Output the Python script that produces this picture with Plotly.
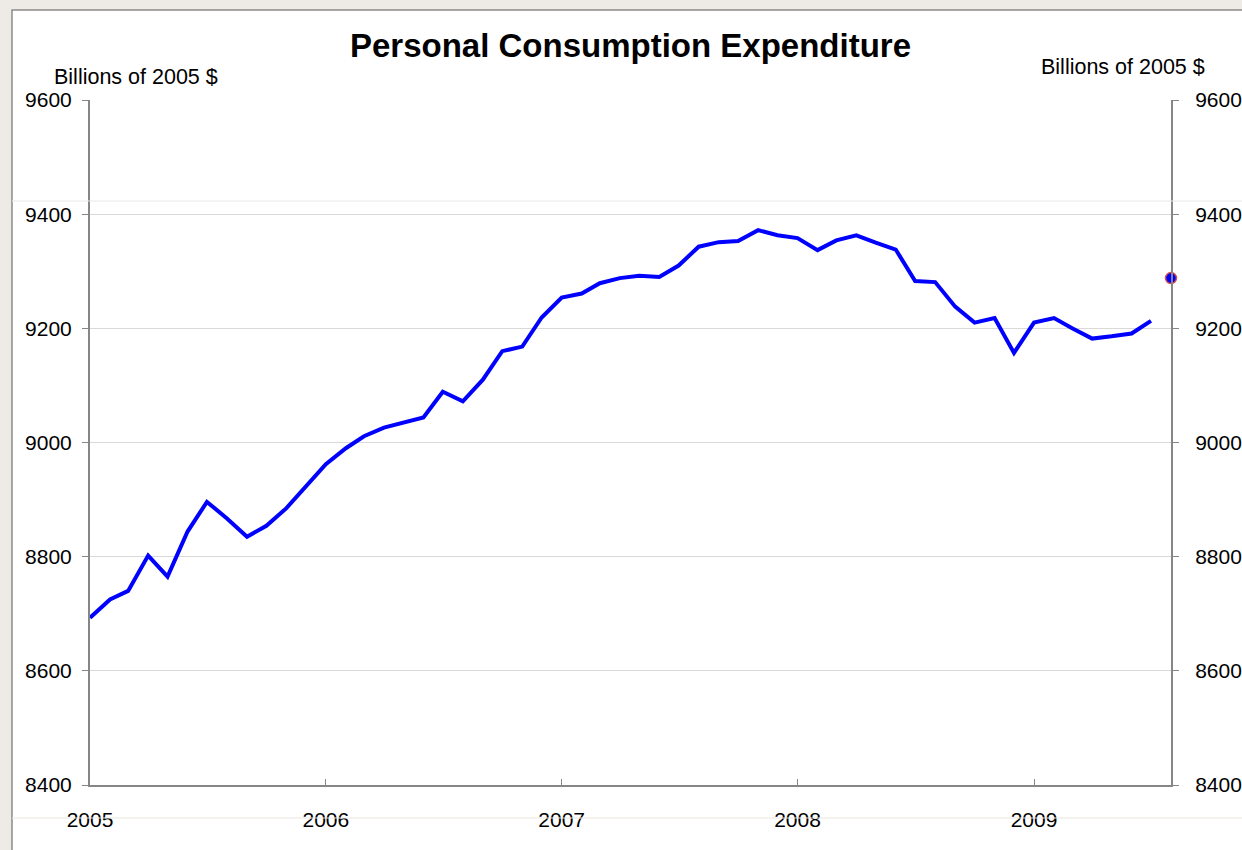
import plotly.graph_objects as go

# monthly values, Jan 2005 .. Jul 2009 (billions of 2005 $)
years = [2005, 2006, 2007, 2008, 2009]
pce_2005 = [8693, 8725, 8740, 8802, 8765, 8844, 8896, 8867, 8835, 8854, 8885, 8924]
pce_2006 = [8962, 8990, 9011, 9026, 9035, 9044, 9089, 9072, 9110, 9160, 9168, 9219]
pce_2007 = [9254, 9261, 9279, 9288, 9292, 9290, 9310, 9343, 9351, 9353, 9372, 9363]
pce_2008 = [9358, 9337, 9354, 9363, 9350, 9338, 9283, 9281, 9238, 9210, 9218, 9157]
pce_2009 = [9210, 9218, 9200, 9182, 9186, 9191, 9213]

latest_month = "2009-08-01"
latest_value = 9288

y_ticks = [8400, 8600, 8800, 9000, 9200, 9400, 9600]

values = pce_2005 + pce_2006 + pce_2007 + pce_2008 + pce_2009
months = [f"{y}-{m:02d}-01" for y in years for m in range(1, 13)][:len(values)]

FONT = "Liberation Sans, Arial, sans-serif"
AXIS = "#868686"
GRID = "#d9d9d9"

fig = go.Figure()
fig.add_trace(go.Scatter(
    x=months, y=values, mode="lines",
    line=dict(color="#0000ff", width=4),
    showlegend=False, hoverinfo="x+y",
))
fig.add_trace(go.Scatter(
    x=[latest_month], y=[latest_value], mode="markers", yaxis="y2",
    marker=dict(color="#0000ff", size=11, line=dict(color="#d0504d", width=1.5)),
    cliponaxis=False, showlegend=False,
))

tick_font = dict(family=FONT, size=21, color="#000000")
label_font = dict(family=FONT, size=21.5, color="#000000")

fig.update_layout(
    width=1242, height=850,
    margin=dict(l=90, r=71, t=100, b=65),
    paper_bgcolor="#eeebe6",
    plot_bgcolor="#ffffff",
    title=dict(
        text="<b>Personal Consumption Expenditure</b>",
        font=dict(family=FONT, size=33, color="#000000"),
        x=0.5, xref="paper", xanchor="center",
        y=1 - 45 / 850, yref="container", yanchor="middle",
    ),
    xaxis=dict(
        type="date", range=["2005-01-01", latest_month],
        dtick="M12", tick0="2005-01-01", tickformat="%Y",
        ticks="inside", ticklen=6, tickcolor=AXIS, tickwidth=1,
        showline=True, linecolor=AXIS, linewidth=2,
        showgrid=False, zeroline=False, automargin=False,
        tickfont=tick_font, ticklabelstandoff=15,
    ),
    yaxis=dict(
        range=[8400, 9600], tickvals=y_ticks,
        ticks="outside", ticklen=6, tickcolor=AXIS, tickwidth=1,
        showline=True, linecolor=AXIS, linewidth=2,
        showgrid=True, gridcolor=GRID, gridwidth=1, zeroline=False,
        automargin=False, tickfont=tick_font, ticklabelstandoff=6,
    ),
    yaxis2=dict(
        range=[8400, 9600], tickvals=y_ticks, overlaying="y", side="right",
        ticks="outside", ticklen=6, tickcolor=AXIS, tickwidth=1,
        showline=True, linecolor=AXIS, linewidth=2,
        showgrid=False, zeroline=False,
        automargin=False, tickfont=tick_font, ticklabelstandoff=12,
    ),
    annotations=[
        dict(text="Billions of 2005 $", x=(136 - 90) / 1081, y=(785 - 77) / 685,
             xref="paper", yref="paper", xanchor="center", yanchor="middle",
             showarrow=False, font=label_font),
        dict(text="Billions of 2005 $", x=(1123 - 90) / 1081, y=(785 - 67) / 685,
             xref="paper", yref="paper", xanchor="center", yanchor="middle",
             showarrow=False, font=label_font),
    ],
    shapes=[
        # white chart frame
        dict(type="rect", xref="paper", yref="paper",
             x0=(12 - 90) / 1081, x1=(1260 - 90) / 1081,
             y0=(785 - 870) / 685, y1=(785 - 10) / 685,
             fillcolor="#ffffff", line=dict(color="#8c8c8c", width=1.5), layer="below"),
        # faint scan lines
        dict(type="line", xref="paper", yref="paper",
             x0=(12 - 90) / 1081, x1=(1260 - 90) / 1081,
             y0=(785 - 201) / 685, y1=(785 - 201) / 685,
             line=dict(color="#e8e8e8", width=1)),
        dict(type="line", xref="paper", yref="paper",
             x0=(12 - 90) / 1081, x1=(1260 - 90) / 1081,
             y0=(785 - 818) / 685, y1=(785 - 818) / 685,
             line=dict(color="#ebe6df", width=1)),
    ],
)

fig.write_html("out.html", config={"displayModeBar": False},
               post_script="document.body.style.margin='0';")
